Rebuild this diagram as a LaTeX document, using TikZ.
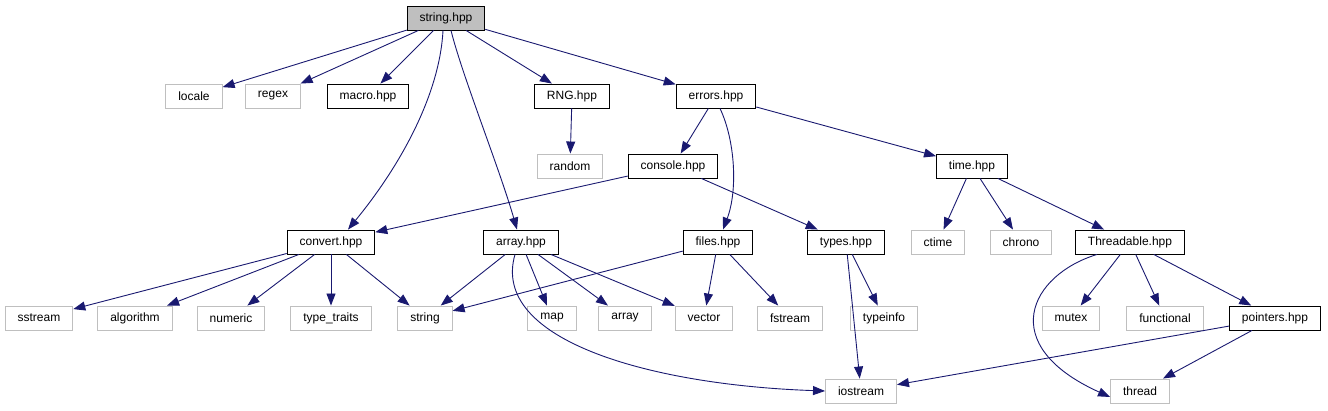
\documentclass[tikz,border=0pt]{standalone}
\usepackage{fontspec}
\setmainfont{Liberation Sans}
\usetikzlibrary{arrows.meta}
\definecolor{edgeblue}{RGB}{25,25,112}
\definecolor{sysgray}{RGB}{191,191,191}
\tikzset{
	file/.style = {draw, minimum height=24pt, inner xsep=12.5pt, inner ysep=0pt, font=\fontsize{12}{14}\selectfont, line width=0.9pt},
	hdr/.style = {file, draw=black},
	sys/.style = {file, draw=sysgray},
	cur/.style = {hdr, fill=sysgray},
	dep/.style = {draw=edgeblue, line width=0.9pt, -{Triangle[length=12pt,width=9pt]}}
}
\begin{document}
\begin{tikzpicture}[x=1pt, y=-1pt]
		\useasboundingbox (0,0) rectangle (1328,411);
		% top row
		\node[cur] (stringhpp) at (446,18) {string.hpp};
		\node[sys] (locale) at (194,96) {locale};
		\node[sys] (regex) at (273,96) {regex};
		\node[hdr] (macro) at (368,96) {macro.hpp};
		\node[hdr] (rng) at (572,96) {RNG.hpp};
		\node[hdr] (errors) at (716,96) {errors.hpp};
		\node[sys] (random) at (570,166) {random};
		\node[hdr] (console) at (673,166) {console.hpp};
		\node[hdr] (time) at (972,166) {time.hpp};
		% middle row
		\node[hdr] (convert) at (331,242) {convert.hpp};
		\node[hdr] (arrayhpp) at (521,242) {array.hpp};
		\node[hdr] (files) at (718,242) {files.hpp};
		\node[hdr] (types) at (846,242) {types.hpp};
		\node[sys] (ctime) at (938,242) {ctime};
		\node[sys] (chrono) at (1021,242) {chrono};
		\node[hdr] (threadable) at (1130,242) {Threadable.hpp};
		% bottom rows
		\node[sys] (sstream) at (39,318) {sstream};
		\node[sys] (algorithm) at (135,318) {algorithm};
		\node[sys] (numeric) at (231,318) {numeric};
		\node[sys] (typetraits) at (331,318) {type\_traits};
		\node[sys] (string) at (425,318) {string};
		\node[sys] (map) at (552,318) {map};
		\node[sys] (array) at (625,318) {array};
		\node[sys] (vector) at (704,318) {vector};
		\node[sys] (fstream) at (790,318) {fstream};
		\node[sys] (typeinfo) at (884,318) {typeinfo};
		\node[sys] (mutex) at (1071,318) {mutex};
		\node[sys] (functional) at (1165,318) {functional};
		\node[hdr] (pointers) at (1275,318) {pointers.hpp};
		\node[sys] (iostream) at (861,391) {iostream};
		\node[sys] (thread) at (1140,391) {thread};
		% edges
		\foreach \t in {locale, regex, macro, rng, errors}
			\draw[dep] (stringhpp) -- (\t);
		\draw[dep] ([xshift=-3pt]stringhpp.south) .. controls (440,90) and (405,160) .. ([xshift=17pt]convert.north);
		\draw[dep] ([xshift=5pt]stringhpp.south) .. controls (462,75) and (500,170) .. ([xshift=-4pt]arrayhpp.north);
		\draw[dep] (rng) -- (random);
		\draw[dep] (errors) -- (console);
		\draw[dep] ([xshift=4pt]errors.south) .. controls (735,140) and (738,190) .. ([xshift=5pt]files.north);
		\draw[dep] (errors) -- (time);
		\draw[dep] (console) -- (convert);
		\draw[dep] (console) -- (types);
		\draw[dep] (time) -- (ctime);
		\draw[dep] (time) -- (chrono);
		\draw[dep] (time) -- (threadable);
		\foreach \t in {sstream, algorithm, numeric, typetraits, string}
			\draw[dep] (convert) -- (\t);
		\foreach \t in {string, map, array, vector}
			\draw[dep] (arrayhpp) -- (\t);
		\draw[dep] ([xshift=-6pt]arrayhpp.south) .. controls (490,340) and (650,385) .. (iostream.west);
		\foreach \t in {string, vector, fstream}
			\draw[dep] (files) -- (\t);
		\draw[dep] (types) -- (iostream);
		\draw[dep] (types) -- (typeinfo);
		\draw[dep] ([xshift=-33pt]threadable.south) .. controls (1030,275) and (995,345) .. ([yshift=-6pt]thread.west);
		\foreach \t in {mutex, functional, pointers}
			\draw[dep] (threadable) -- (\t);
		\draw[dep] (pointers) -- (iostream);
		\draw[dep] (pointers) -- (thread);
	\end{tikzpicture}
\end{document}
